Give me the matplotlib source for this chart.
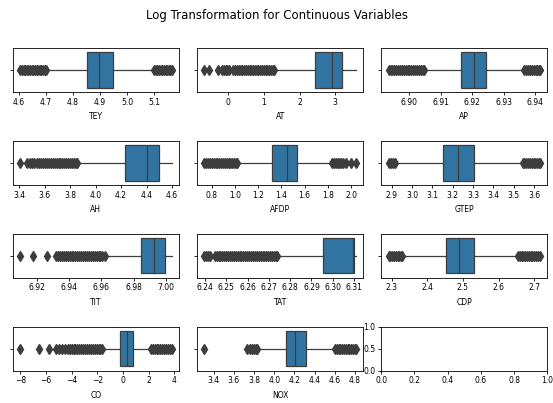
import matplotlib
matplotlib.use('Agg')
import matplotlib.pyplot as plt
from matplotlib.ticker import MultipleLocator

plt.rcParams['font.family'] = ['DejaVu Sans']

# variables in plotting order
names = ['TEY', 'AT', 'AP', 'AH', 'AFDP', 'GTEP', 'TIT', 'TAT', 'CDP', 'CO', 'NOX']

# box statistics (log scale values)
q1 = [4.851, 2.43, 6.9165, 4.235, 1.321, 3.151, 6.9844, 6.2952, 2.453, -0.25, 4.112]
med = [4.897, 2.92, 6.9204, 4.400, 1.446, 3.225, 6.9928, 6.3095, 2.488, 0.28, 4.207]
q3 = [4.948, 3.19, 6.9245, 4.495, 1.530, 3.304, 6.9994, 6.3099, 2.532, 0.77, 4.311]
whislo = [4.709, 1.30, 6.9049, 3.857, 1.025, 2.919, 6.9623, 6.2742, 2.334, -1.59, 3.837]
whishi = [5.092, 3.57, 6.9361, 4.596, 1.830, 3.530, 7.0036, 6.3108, 2.651, 2.13, 4.595]

# tick spacing on each x axis
tick_step = [0.1, 1, 0.01, 0.2, 0.2, 0.1, 0.02, 0.01, 0.1, 2, 0.2]

# outliers (dense runs are listed close together so they merge like the original)
tey_fliers = [4.606, 4.612, 4.618, 4.624, 4.630, 4.636, 4.642, 4.648, 4.654, 4.660, 4.666,
              4.672, 4.678, 4.684, 4.690, 4.696, 4.700,
              5.100, 5.106, 5.112, 5.118, 5.124, 5.130, 5.136, 5.142, 5.148, 5.154, 5.160, 5.164]
at_fliers = [-0.66, -0.53, -0.28, -0.17, -0.12, -0.07, -0.02, 0.03, 0.15, 0.20, 0.25, 0.30,
             0.35, 0.40, 0.45, 0.50, 0.55, 0.60, 0.65, 0.70, 0.75, 0.80, 0.85, 0.90, 0.95,
             1.00, 1.05, 1.10, 1.15, 1.20, 1.25, 1.28]
ap_fliers = [6.8934, 6.8940, 6.8946, 6.8952, 6.8958, 6.8964, 6.8970, 6.8976, 6.8982, 6.8988,
             6.8994, 6.9000, 6.9006, 6.9012, 6.9018, 6.9024, 6.9030, 6.9036, 6.9042, 6.9045,
             6.9365, 6.9371, 6.9377, 6.9383, 6.9389, 6.9395, 6.9401, 6.9407, 6.9413, 6.9415]
ah_fliers = [3.41, 3.465, 3.486, 3.50, 3.52, 3.545, 3.560, 3.575, 3.590, 3.605, 3.620, 3.635,
             3.650, 3.665, 3.680, 3.695, 3.710, 3.725, 3.740, 3.755, 3.770, 3.785, 3.800,
             3.815, 3.830, 3.845, 3.855]
afdp_fliers = [0.736, 0.752, 0.768, 0.784, 0.800, 0.816, 0.832, 0.848, 0.864, 0.880, 0.896,
               0.912, 0.928, 0.944, 0.960, 0.976, 0.992, 1.008, 1.020,
               1.835, 1.851, 1.867, 1.883, 1.899, 1.91, 1.93, 1.96, 2.00, 2.04]
gtep_fliers = [2.885, 2.895, 2.905, 2.915, 3.543, 3.552, 3.561, 3.570, 3.579, 3.588, 3.597,
               3.606, 3.615, 3.624, 3.628]
tit_fliers = [6.9095, 6.9175, 6.9262, 6.9318, 6.9330, 6.9342, 6.9354, 6.9366, 6.9378, 6.9390,
              6.9402, 6.9414, 6.9426, 6.9438, 6.9450, 6.9462, 6.9474, 6.9486, 6.9498, 6.9510,
              6.9522, 6.9534, 6.9546, 6.9558, 6.9570, 6.9582, 6.9594, 6.9606, 6.9620]
tat_fliers = [6.2397, 6.2406, 6.2415, 6.2425, 6.2445, 6.2454, 6.2463, 6.2472, 6.2481, 6.2490,
              6.2499, 6.2508, 6.2517, 6.2526, 6.2535, 6.2544, 6.2553, 6.2562, 6.2571, 6.2580,
              6.2589, 6.2598, 6.2607, 6.2616, 6.2625, 6.2634, 6.2643, 6.2652, 6.2661, 6.2670,
              6.2679, 6.2688, 6.2697, 6.2706, 6.2715, 6.2724, 6.2733, 6.2740]
cdp_fliers = [2.292, 2.297, 2.302, 2.307, 2.312, 2.317, 2.322, 2.327, 2.330,
              2.655, 2.660, 2.665, 2.670, 2.675, 2.680, 2.685, 2.690, 2.695, 2.700, 2.705,
              2.710, 2.716]
co_fliers = [-8.0, -6.54, -5.75, -5.23, -4.98, -4.75, -4.52, -4.31, -4.15, -4.00, -3.85, -3.70,
             -3.55, -3.40, -3.25, -3.10, -2.95, -2.80, -2.65, -2.50, -2.35, -2.20, -2.05, -1.90,
             -1.75, -1.64,
             2.17, 2.32, 2.47, 2.62, 2.77, 2.92, 3.07, 3.22, 3.37, 3.52, 3.67, 3.79]
nox_fliers = [3.31, 3.733, 3.762, 3.779, 3.797, 3.815, 3.83, 4.60, 4.618, 4.636, 4.654, 4.672,
              4.690, 4.708, 4.726, 4.744, 4.762, 4.780, 4.798, 4.806]

fliers = [tey_fliers, at_fliers, ap_fliers, ah_fliers, afdp_fliers, gtep_fliers,
          tit_fliers, tat_fliers, cdp_fliers, co_fliers, nox_fliers]

box_color = '#3274a1'
line_color = '#3d3d3d'

fig, axes = plt.subplots(4, 3, figsize=(5.53, 4.03), dpi=100)
fig.subplots_adjust(left=0.023, right=0.99, top=0.881, bottom=0.08, wspace=0.107, hspace=1.1)
fig.suptitle('Log Transformation for Continuous Variables', fontsize=8.5, y=0.978)

for i, ax in enumerate(axes.flat):
    for sp in ax.spines.values():
        sp.set_linewidth(0.6)
    ax.tick_params(labelsize=5.5, length=2.5, width=0.6, pad=1.5)
    if i >= len(names):
        continue
    stats = [dict(med=med[i], q1=q1[i], q3=q3[i], whislo=whislo[i], whishi=whishi[i],
                  fliers=fliers[i])]
    ax.bxp(stats, positions=[0], widths=0.8, vert=False, patch_artist=True,
           boxprops=dict(facecolor=box_color, edgecolor=line_color, linewidth=0.9),
           medianprops=dict(color=line_color, linewidth=0.9),
           whiskerprops=dict(color=line_color, linewidth=0.9),
           capprops=dict(color=line_color, linewidth=0.9),
           flierprops=dict(marker='d', markersize=4.8, markerfacecolor=line_color,
                           markeredgecolor=line_color, linestyle='none'),
           capwidths=0)
    ax.set_ylim(0.5, -0.5)
    ax.set_yticks([0])
    ax.set_yticklabels([''])
    ax.xaxis.set_major_locator(MultipleLocator(tick_step[i]))
    ax.set_xlabel(names[i], fontsize=5.5, labelpad=4)

fig.savefig('out.png', dpi=100)
